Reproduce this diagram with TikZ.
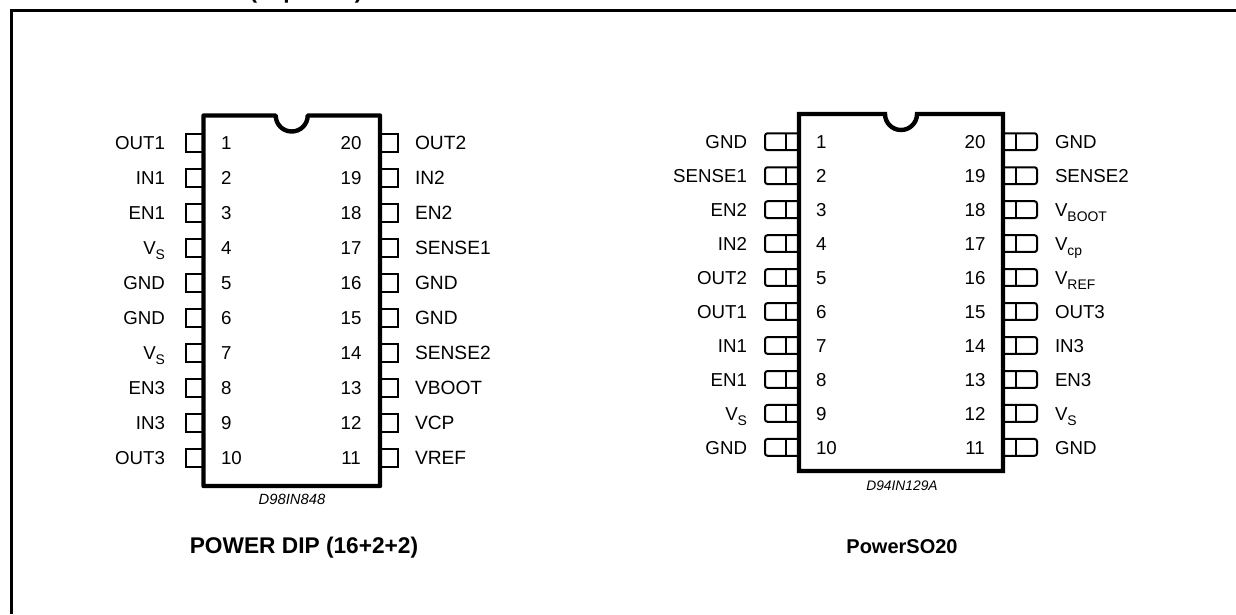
\documentclass[tikz,border=0pt]{standalone}
\usepackage{fontspec}
\setmainfont{Liberation Sans}
\newcommand{\lblfont}{\fontsize{18.7}{20}\selectfont}
\newcommand{\subs}[2]{#1\raisebox{-5pt}{\fontsize{13.9}{15}\selectfont #2}}
\tikzset{
  x=1pt,y=-1pt,
  frameline/.style={line width=3pt,line cap=butt},
  body/.style={line width=4.4pt},
  pinbox/.style={line width=2pt},
  sopin/.style={line width=2pt,rounded corners=2.5pt},
  txt/.style={inner sep=0pt,outer sep=0pt,font=\lblfont,anchor=base},
  lblL/.style={txt,anchor=base east},
  lblR/.style={txt,anchor=base west},
  lblRwide/.style={lblR,font=\fontsize{19.2}{20}\selectfont},
  numL/.style={txt,anchor=base west},
  numR/.style={txt},
  code/.style={inner sep=0pt,anchor=base,font=\fontsize{14.8}{16}\selectfont\itshape},
  pkgtitle/.style={inner sep=0pt,anchor=base,font=\fontsize{22.7}{24}\selectfont\bfseries},
}
\begin{document}
\begin{tikzpicture}
\useasboundingbox (0,0) rectangle (1236,614);
\fill[white] (0,0) rectangle (1236,614);
\draw[frameline] (11.5,614) -- (11.5,10.5) -- (1236,10.5);
\node[pkgtitle,anchor=base west] (clip) at (249.5,-1.6) {(Top View)};
% POWER DIP
\foreach \i/\a/\b/\na/\nb [evaluate=\i as \yy using 143+35*(\i-1)] in
 {1/OUT1/OUT2/1/20,2/IN1/IN2/2/19,3/EN1/EN2/3/18,4/\subs{V}{S}/SENSE1/4/17,5/GND/GND/5/16,
  6/GND/GND/6/15,7/\subs{V}{S}/SENSE2/7/14,8/EN3/VBOOT/8/13,9/IN3/VCP/9/12,10/OUT3/VREF/10/11}{
  \draw[pinbox] (203.5,\yy-8.6) -- (185.5,\yy-8.6) -- (185.5,\yy+8.6) -- (203.5,\yy+8.6);
  \draw[pinbox] (380,\yy-8.6) -- (398,\yy-8.6) -- (398,\yy+8.6) -- (380,\yy+8.6);
  \node[lblL] (dl\i) at (165,\yy+6.7) {\a};
  \node[lblRwide] (dr\i) at (415,\yy+6.7) {\b};
  \node[numL] (dn\i) at (221,\yy+6.7) {\na};
  \node[numR] (dm\i) at (351,\yy+6.7) {\nb};
}
\draw[body,line join=round] (203.5,486) -- (203.5,115.5) -- (275.7,115.5)
  arc[start angle=180,end angle=360,radius=16pt] -- (380,115.5) -- (380,486) -- cycle;
\node[code] (dcode) at (292,504) {D98IN848};
\node[pkgtitle] (dtitle) at (304,553.5) {POWER DIP (16+2+2)};
% PowerSO20
\foreach \i/\a/\b/\na/\nb [evaluate=\i as \yy using 141.7+33.96*(\i-1)] in
 {1/GND/GND/1/20,2/SENSE1/SENSE2/2/19,3/EN2/\subs{V}{BOOT}/3/18,4/IN2/\subs{V}{cp}/4/17,5/OUT2/\subs{V}{REF}/5/16,
  6/OUT1/OUT3/6/15,7/IN1/IN3/7/14,8/EN1/EN3/8/13,9/\subs{V}{S}/\subs{V}{S}/9/12,10/GND/GND/10/11}{
  \draw[sopin] (799,\yy-8.4) -- (765,\yy-8.4) -- (765,\yy+8.4) -- (799,\yy+8.4);
  \draw[pinbox] (786,\yy-8.4) -- (786,\yy+8.4);
  \draw[sopin] (1003,\yy-8.4) -- (1037,\yy-8.4) -- (1037,\yy+8.4) -- (1003,\yy+8.4);
  \draw[pinbox] (1016,\yy-8.4) -- (1016,\yy+8.4);
  \node[lblL] (sl\i) at (747,\yy+6.7) {\a};
  \node[lblR] (sr\i) at (1055,\yy+6.7) {\b};
  \node[numL] (sn\i) at (816,\yy+6.7) {\na};
  \node[numR] (sm\i) at (975,\yy+6.7) {\nb};
}
\draw[body,line join=miter] (799,471) -- (799,114) -- (885,114)
  arc[start angle=180,end angle=360,radius=16pt] -- (1003,114) -- (1003,471) -- cycle;
\node[code,font=\fontsize{13.8}{15}\selectfont\itshape] (scode) at (902,490) {D94IN129A};
\node[pkgtitle,font=\fontsize{20}{22}\selectfont\bfseries] (stitle) at (902,553.5) {PowerSO20};
\end{tikzpicture}
\end{document}
